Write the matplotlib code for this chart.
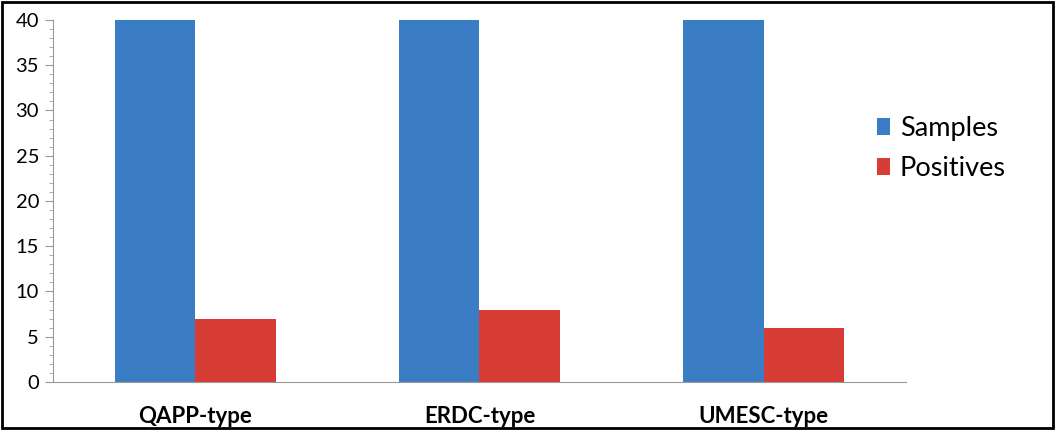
import matplotlib.pyplot as plt
from matplotlib.ticker import MultipleLocator
from matplotlib.patches import Rectangle
import numpy as np

categories = ['QAPP-type', 'ERDC-type', 'UMESC-type']
samples = [40, 40, 40]
positives = [7, 8, 6]

blue = '#3b7dc5'
red = '#d73c35'

plt.rcParams['font.family'] = ['Lato', 'DejaVu Sans']

fig = plt.figure(figsize=(10.55, 4.3), dpi=100)
ax = fig.add_axes([0.0502, 0.1116, 0.8085, 0.842])

x = np.arange(len(categories))
w = 0.283
b1 = ax.bar(x - w / 2, samples, w, color=blue, label='Samples')
b2 = ax.bar(x + w / 2, positives, w, color=red, label='Positives')

ax.set_xlim(-0.5, 2.5)
ax.set_ylim(0, 40)
ax.yaxis.set_major_locator(MultipleLocator(5))
ax.yaxis.set_minor_locator(MultipleLocator(1))
ax.set_xticks(x)
ax.set_xticklabels(categories, fontsize=16, fontweight='bold')
ax.tick_params(axis='x', length=0, pad=17)
ax.tick_params(axis='y', which='major', length=6, color='#999999', labelsize=14.5, pad=4)
ax.tick_params(axis='y', which='minor', length=3, color='#999999')

for s in ['top', 'right']:
    ax.spines[s].set_visible(False)
for s in ['left', 'bottom']:
    ax.spines[s].set_color('#999999')

fig.legend(handles=[b1, b2], loc='upper left', bbox_to_anchor=(0.808, 0.787),
           frameon=False, fontsize=19.5, handlelength=0.5, handleheight=0.6,
           handletextpad=0.35, labelspacing=0.55)

# border around the picture
fig.patches.append(Rectangle((0.002, 0.004), 0.996, 0.992, transform=fig.transFigure,
                             fill=False, edgecolor='black', linewidth=2))

fig.savefig('out.png', dpi=100)
